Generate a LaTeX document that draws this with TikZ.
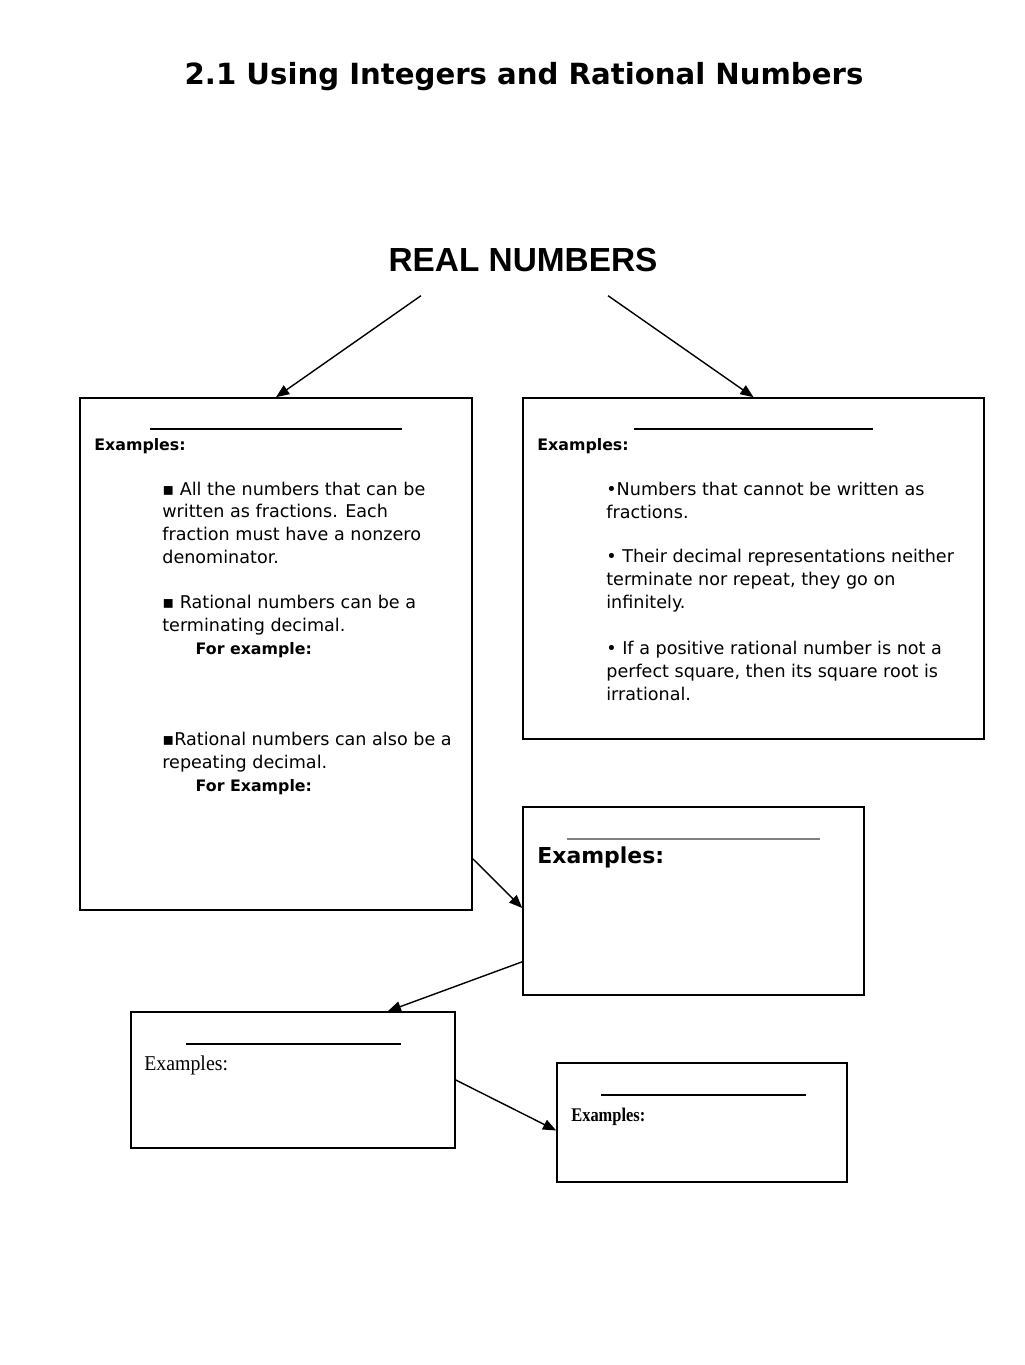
\documentclass[tikz,border=0pt]{standalone}
\usepackage{fontspec}
\setmainfont{DejaVu Sans}
\newfontfamily\headfont{Liberation Sans}
\newfontfamily\oldserif[FakeStretch=0.94]{Liberation Serif}
\newfontfamily\narrowserif[FakeStretch=0.85]{Liberation Serif}
\usetikzlibrary{positioning,arrows.meta,fit,calc}

\begin{document}
\begin{tikzpicture}[
  x=0.02cm, y=-0.02cm,
  box/.style={draw, line width=0.9pt, inner sep=0pt},
  arrow/.style={-{Triangle[length=7.5pt,width=6pt]}, line width=0.8pt},
  blank/.style={line width=0.6pt},
  body/.style={anchor=base west, align=left, inner sep=0pt, font=\fontsize{10}{12.9}\selectfont},
  exlabel/.style={anchor=base west, inner sep=0pt, font=\fontsize{9}{11}\selectfont\bfseries},
  forex/.style={font=\fontsize{9}{12.9}\selectfont\bfseries}
]
\useasboundingbox (0,0) rectangle (1024,1365);

\node[anchor=base, inner sep=0pt, font=\fontsize{16.6}{20}\selectfont\bfseries] (title) at (524,85) {2.1 Using Integers and Rational Numbers};
\node[anchor=base, inner sep=0pt, font=\headfont\fontsize{19}{22}\selectfont\bfseries] (real) at (523,271) {REAL NUMBERS};

\node[box, fit={(80,398) (472,910)}] (rat) {};
\node[box, fit={(523,398) (984,739)}] (irr) {};
\node[box, fit={(523,807) (864,995)}] (int) {};
\node[box, fit={(131,1012) (455,1148)}] (whole) {};
\node[box, fit={(557,1063) (847,1182)}] (nat) {};

\draw[arrow] ($(real.south)+(-102,24)$) -- (rat.north);
\draw[arrow] ($(real.south)+(85,24)$) -- (irr.north);
\draw[arrow] ($(rat.south east)+(0,-52)$) -- ($(int.west)+(0,7)$);
\draw[arrow] ($(int.south west)+(0,-34)$) -- ($(whole.north east)+(-68,0)$);
\draw[arrow] (whole.east) -- ($(nat.west)+(0,8)$);

\draw[blank] (150,429) -- (402,429);
\node[exlabel] (ratex) at (94,450) {Examples:};
\node[body] (rat1) at (162,563) {▪ All the numbers that can be\\written as fractions. Each\\fraction must have a nonzero\\denominator.};
\node[body] (rat2) at (162,654) {▪ Rational numbers can be a\\terminating decimal.\\\hspace*{19pt}{\fontsize{9}{12.9}\selectfont\bfseries For example:}};
\node[body] (rat3) at (162,791) {▪Rational numbers can also be a\\repeating decimal.\\\hspace*{19pt}{\fontsize{9}{12.9}\selectfont\bfseries For Example:}};

\draw[blank] (634,429) -- (873,429);
\node[exlabel] (irrex) at (537,450) {Examples:};
\node[body] (irr1) at (606,518) {•Numbers that cannot be written as\\fractions.};
\node[body] (irr2) at (606,608) {• Their decimal representations neither\\terminate nor repeat, they go on\\infinitely.};
\node[body] (irr3) at (606,700) {• If a positive rational number is not a\\perfect square, then its square root is\\irrational.};

\draw[blank, gray] (567,839) -- (820,839);
\node[anchor=base west, inner sep=0pt, font=\fontsize{12.5}{15}\selectfont\bfseries] (intex) at (537,863) {Examples:};

\draw[blank] (186,1044) -- (401,1044);
\node[anchor=base west, inner sep=0pt, font=\oldserif\fontsize{12}{14}\selectfont] (wholeex) at (144,1070) {Examples:};

\draw[blank] (601,1095) -- (806,1095);
\node[anchor=base west, inner sep=0pt, font=\narrowserif\fontsize{11}{13}\selectfont\bfseries] (natex) at (571,1121) {Examples:};
\end{tikzpicture}
\end{document}
